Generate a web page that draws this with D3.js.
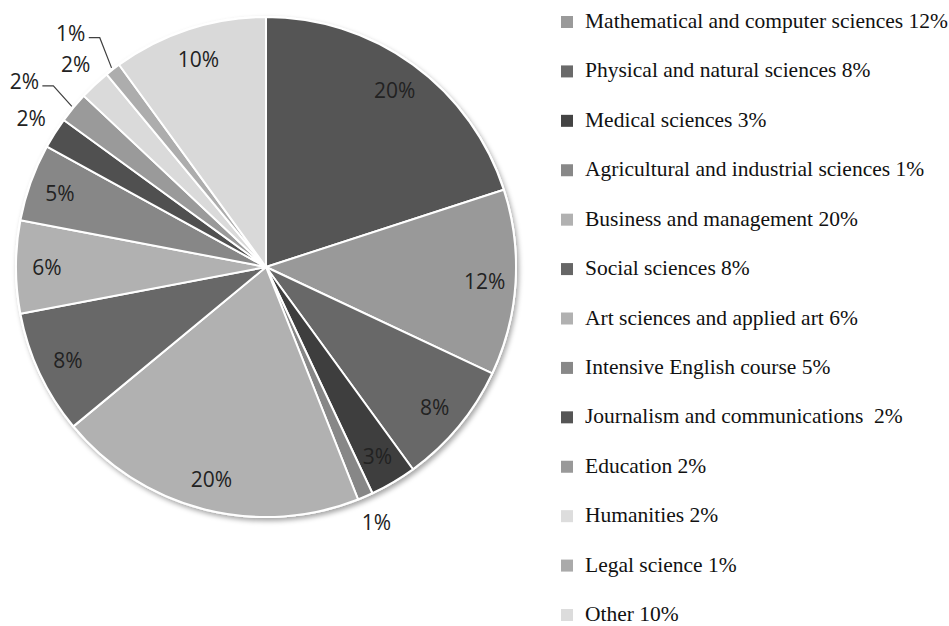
<!DOCTYPE html>
<html>
<head>
<meta charset="utf-8">
<script src="https://cdn.jsdelivr.net/npm/d3@7"></script>
<style>
  body { margin: 0; background: #fff; }
  svg { display: block; }
</style>
</head>
<body>
<div class="chart"></div>
<script>
// slice values in pie order, clockwise from 12 o'clock
const sliceValues = [20, 12, 8, 3, 1, 20, 8, 6, 5, 2, 2, 2, 1, 10];
const sliceColors = ['#555555', '#999999', '#686868', '#3e3e3e', '#878787', '#b1b1b1', '#686868',
    '#b1b1b1', '#878787', '#505050', '#9a9a9a', '#dadada', '#adadad', '#d9d9d9'];
// where each slice label goes: inside, outside, outside with a leader line
const labelPlacement = ['in', 'in', 'in', 'in', 'out', 'in', 'in', 'in', 'in', 'out', 'leader', 'out', 'leader', 'in'];

// legend entries (the first slice has no entry in the original legend)
const legendLabels = [
    'Mathematical and computer sciences 12%',
    'Physical and natural sciences 8%',
    'Medical sciences 3%',
    'Agricultural and industrial sciences 1%',
    'Business and management 20%',
    'Social sciences 8%',
    'Art sciences and applied art 6%',
    'Intensive English course 5%',
    'Journalism and communications  2%',
    'Education 2%',
    'Humanities 2%',
    'Legal science 1%',
    'Other 10%'
];
const legendColors = ['#9a9a9a', '#6a6a6a', '#444444', '#888888', '#b1b1b1', '#666666', '#b1b1b1',
    '#888888', '#555555', '#999999', '#dddddd', '#aaaaaa', '#dcdcdc'];

let width = 949, height = 626;
let cx = 266, cy = 267, radius = 250;

let svg = d3.select('.chart')
    .append('svg')
    .attr('width', width)
    .attr('height', height);

// soft shadow under the pie
let defs = svg.append('defs');
let filter = defs.append('filter')
    .attr('id', 'shadow')
    .attr('x', '-10%').attr('y', '-10%')
    .attr('width', '120%').attr('height', '120%');
filter.append('feDropShadow')
    .attr('dx', 2)
    .attr('dy', 3)
    .attr('stdDeviation', 2.5)
    .attr('flood-color', '#000')
    .attr('flood-opacity', 0.35);

let g = svg.append('g')
    .attr('transform', 'translate(' + cx + ',' + cy + ')');

let pie = d3.pie().sort(null).value(d => d);
let arcs = pie(sliceValues);
let arc = d3.arc().innerRadius(0).outerRadius(radius);

// background disc with shadow
g.append('circle')
    .attr('r', radius + 1)
    .attr('fill', '#fff')
    .attr('filter', 'url(#shadow)');

g.selectAll('path.slice')
    .data(arcs)
    .enter().append('path')
    .attr('class', 'slice')
    .attr('d', arc)
    .attr('fill', (d, i) => sliceColors[i])
    .attr('stroke', '#fff')
    .attr('stroke-width', 2)
    .attr('stroke-linejoin', 'round');

function polar(angle, r) {
    return [Math.sin(angle) * r, -Math.cos(angle) * r];
}

let rad = Math.PI / 180;
arcs.forEach((d, i) => {
    let mid = (d.startAngle + d.endAngle) / 2;
    let mode = labelPlacement[i];
    let pos;
    if (mode === 'in') pos = polar(mid, 219);
    else if (mode === 'out') pos = polar(mid, 278);
    else pos = polar(mid - 2 * rad, 305);

    g.append('text')
        .attr('x', pos[0])
        .attr('y', pos[1])
        .attr('text-anchor', 'middle')
        .attr('dominant-baseline', 'central')
        .style('font-family', '"Open Sans", "Noto Sans", sans-serif')
        .style('font-size', '21px')
        .style('fill', '#222')
        .text(sliceValues[i] + '%');

    if (mode === 'leader') {
        let edge = polar(mid, radius + 2);
        let yy = pos[1] + 5;
        g.append('path')
            .attr('d', 'M' + (pos[0] + 18) + ',' + yy + 'L' + (pos[0] + 29) + ',' + yy + 'L' + edge[0] + ',' + edge[1])
            .attr('fill', 'none')
            .attr('stroke', '#404040')
            .attr('stroke-width', 1.2);
    }
});

// legend
let ly = d3.scaleLinear().domain([0, legendLabels.length - 1]).range([22, 615]);
let legend = svg.append('g');
legendLabels.forEach((label, i) => {
    legend.append('rect')
        .attr('x', 561)
        .attr('y', ly(i) - 6)
        .attr('width', 12)
        .attr('height', 12)
        .attr('fill', legendColors[i]);
    legend.append('text')
        .attr('x', 585)
        .attr('y', ly(i) + 6)
        .style('font-family', '"Liberation Serif", "Times New Roman", serif')
        .style('font-size', '21.5px')
        .style('fill', '#111')
        .style('white-space', 'pre')
        .text(label);
});
</script>
</body>
</html>
